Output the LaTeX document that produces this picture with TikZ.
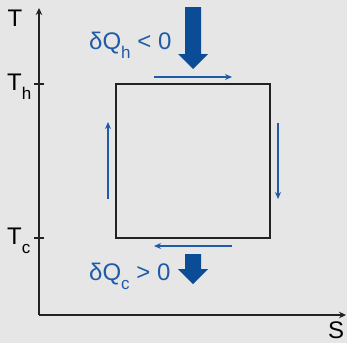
\documentclass[tikz,border=0pt]{standalone}
\usepackage{fontspec}
\setmainfont{Liberation Sans}
\usetikzlibrary{arrows.meta}
\definecolor{bg}{HTML}{E6E6E6}
\definecolor{txtblue}{HTML}{1F5BA8}
\definecolor{bigblue}{HTML}{0B4C97}
\definecolor{axis}{HTML}{222222}
\newcommand{\mysub}[1]{\raisebox{-9pt}{\fontsize{17}{17}\selectfont #1}}
\tikzset{
  lbl/.style={anchor=base west, inner sep=0pt, font=\fontsize{24}{24}\selectfont},
  bluelbl/.style={lbl, text=txtblue},
  axisline/.style={draw=axis, line width=1.4pt, -{Stealth[length=7pt,width=6.5pt]}},
  tick/.style={draw=axis, line width=1.4pt},
  cycle/.style={draw=axis, line width=1.5pt},
  flow/.style={draw=txtblue, line width=1.5pt, -{Stealth[length=7pt,width=6pt]}},
  heat/.style={fill=bigblue, draw=none}
}
\begin{document}
\begin{tikzpicture}[x=1pt,y=-1pt]
\fill[bg] (0,0) rectangle (347,343);
\useasboundingbox (0,0) rectangle (347,343);
% axes
\coordinate (o) at (39,315);
\coordinate (ytop) at (39,8);
\coordinate (xend) at (346,315);
\draw[axisline] (o) -- (ytop);
\draw[axisline] (o) -- (xend);
% ticks
\coordinate (th1) at (34,84); \coordinate (th2) at (44,84);
\coordinate (tc1) at (34,238); \coordinate (tc2) at (44,238);
\draw[tick] (th1) -- (th2);
\draw[tick] (tc1) -- (tc2);
% labels
\node[lbl] (T) at (7.5,26) {T};
\node[lbl] (Th) at (7,90) {T\mysub{h}};
\node[lbl] (Tc) at (7,244) {T\mysub{c}};
\node[lbl] (S) at (328,338) {S};
% cycle
\coordinate (A) at (116,84);
\coordinate (B) at (270,84);
\coordinate (C) at (270,238);
\coordinate (D) at (116,238);
\draw[cycle] (A) -- (B) -- (C) -- (D) -- cycle;
% flow arrows
\coordinate (t1) at (154,77); \coordinate (t2) at (232,77);
\coordinate (r1) at (278,123); \coordinate (r2) at (278,199);
\coordinate (b1) at (232,246); \coordinate (b2) at (154,246);
\coordinate (l1) at (108,199); \coordinate (l2) at (108,122);
\draw[flow] (t1) -- (t2);
\draw[flow] (r1) -- (r2);
\draw[flow] (b1) -- (b2);
\draw[flow] (l1) -- (l2);
% heat arrows
\fill[heat] (185,7) -- (201,7) -- (201,54) -- (208,54) -- (193,69) -- (178,54) -- (185,54) -- cycle;
\fill[heat] (185,254) -- (201,254) -- (201,269) -- (208,269) -- (193,284) -- (178,269) -- (185,269) -- cycle;
% heat labels
\node[bluelbl] (Qh) at (89,49) {δQ\mysub{h} < 0};
\node[bluelbl] (Qc) at (89,280) {δQ\mysub{c} > 0};
\end{tikzpicture}
\end{document}
